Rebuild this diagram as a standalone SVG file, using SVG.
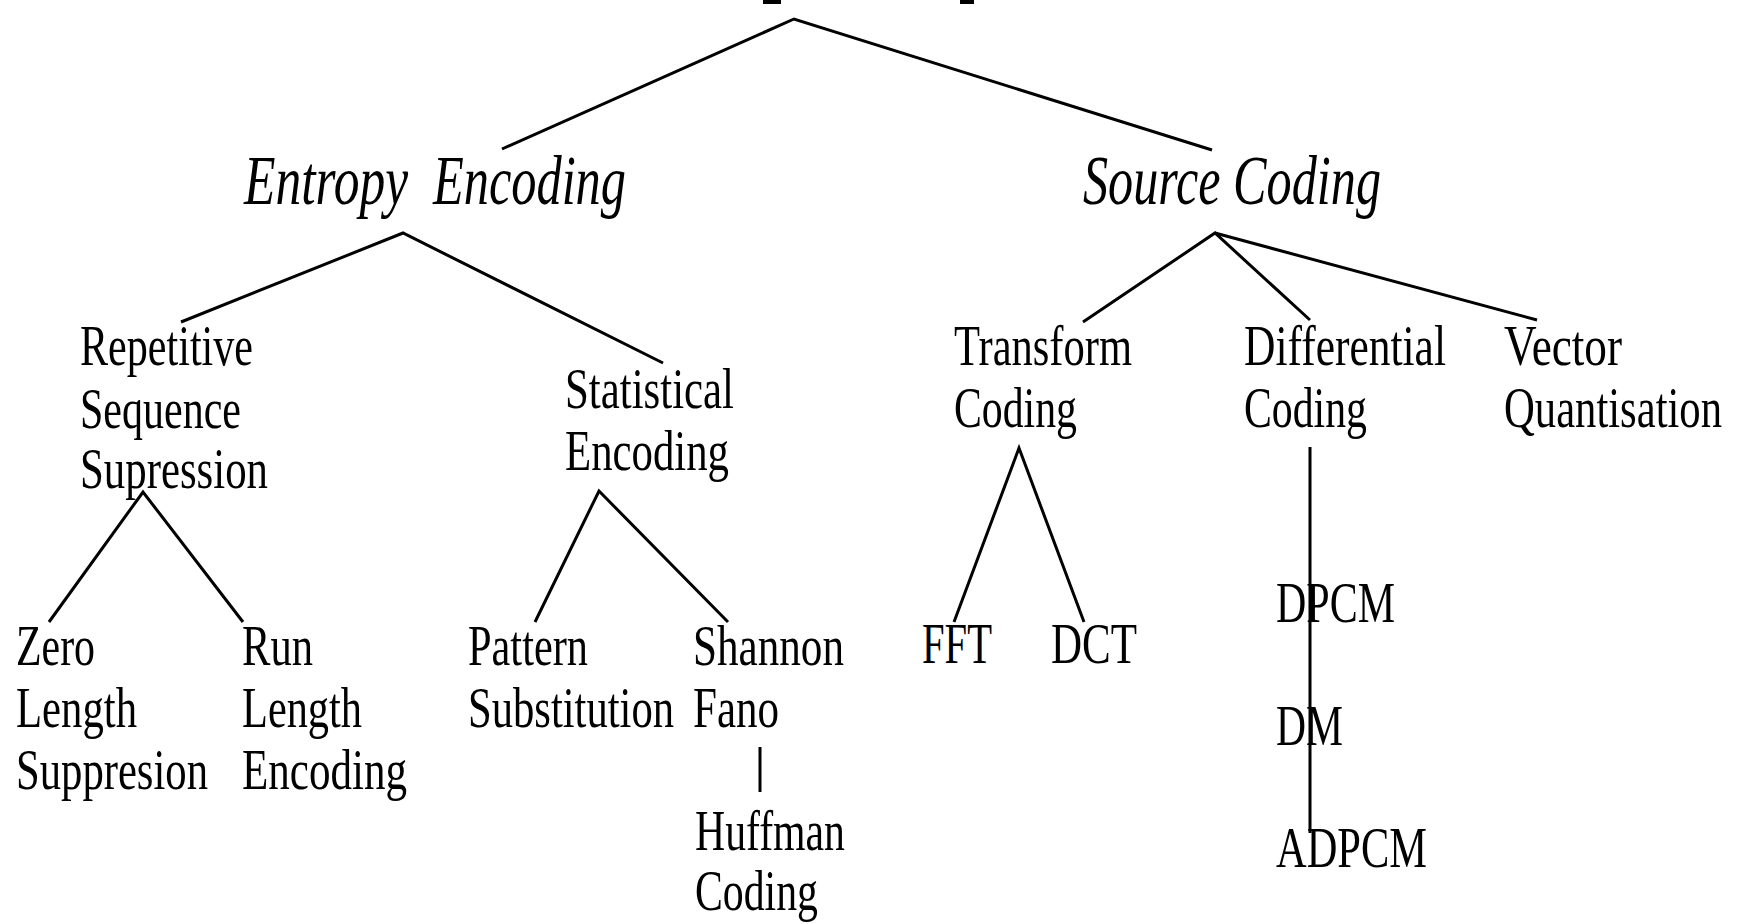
<svg xmlns="http://www.w3.org/2000/svg" width="1737" height="924" viewBox="0 0 1737 924">
  <style>
    .bg { fill: #ffffff; }
    .edge { stroke: #000000; stroke-width: 3; fill: none; stroke-linecap: butt; }
    .lbl { font-family: "Liberation Serif", "Times New Roman", serif; font-size: 41px; fill: #000000; }
    .head { font-family: "Liberation Serif", "Times New Roman", serif; font-size: 50px; font-style: italic; fill: #000000; }
    .frag { fill: #000000; }
  </style>
  <rect class="bg" x="0" y="0" width="1737" height="924"/>

  <!-- bottoms of the heading that sits above the visible area -->
  <g id="heading-fragments">
    <rect class="frag" x="763" y="0" width="18" height="4"/>
    <rect class="frag" x="960" y="0" width="14" height="4"/>
  </g>

  <g id="connectors">
    <!-- root split -->
    <polyline class="edge" points="502,149 794,19 1212,150"/>
    <!-- entropy encoding branches -->
    <polyline class="edge" points="181,322 403,233 663,363"/>
    <!-- source coding branches -->
    <polyline class="edge" points="1083,322 1215,233 1310,320"/>
    <line class="edge" x1="1215" y1="233" x2="1537" y2="320"/>
    <!-- repetitive sequence suppression branches -->
    <polyline class="edge" points="49,622 143,492 243,622"/>
    <!-- statistical encoding branches -->
    <polyline class="edge" points="535,622 599,491 728,622"/>
    <!-- transform coding branches -->
    <polyline class="edge" points="954,622 1019,448 1084,622"/>
    <!-- Shannon Fano to Huffman -->
    <line class="edge" x1="760" y1="747" x2="760" y2="792"/>
    <!-- differential coding chain -->
    <line class="edge" x1="1310" y1="447" x2="1310" y2="833"/>
  </g>

  <!-- labels use a tall, narrow letterform: each block is stretched vertically -->
  <g id="entropy-encoding">
    <text class="head" transform="translate(244,204) scale(1,1.39)"><tspan x="0" y="0" textLength="164" lengthAdjust="spacingAndGlyphs">Entropy</tspan><tspan x="189" y="0" textLength="193" lengthAdjust="spacingAndGlyphs">Encoding</tspan></text>
  </g>
  <g id="source-coding">
    <text class="head" transform="translate(1083,204) scale(1,1.39)" x="0" y="0" textLength="298" lengthAdjust="spacingAndGlyphs">Source Coding</text>
  </g>

  <g id="repetitive-sequence-supression">
    <text class="lbl" transform="translate(80,365) scale(1,1.37)"><tspan x="0" y="0" textLength="173" lengthAdjust="spacingAndGlyphs">Repetitive</tspan><tspan x="0" y="46" textLength="161" lengthAdjust="spacingAndGlyphs">Sequence</tspan><tspan x="0" y="89.8" textLength="188" lengthAdjust="spacingAndGlyphs">Supression</tspan></text>
  </g>
  <g id="statistical-encoding">
    <text class="lbl" transform="translate(565,408) scale(1,1.37)"><tspan x="0" y="0" textLength="169" lengthAdjust="spacingAndGlyphs">Statistical</tspan><tspan x="0" y="45.3" textLength="164" lengthAdjust="spacingAndGlyphs">Encoding</tspan></text>
  </g>
  <g id="transform-coding">
    <text class="lbl" transform="translate(954,365) scale(1,1.37)"><tspan x="0" y="0" textLength="178" lengthAdjust="spacingAndGlyphs">Transform</tspan><tspan x="0" y="45.3" textLength="123" lengthAdjust="spacingAndGlyphs">Coding</tspan></text>
  </g>
  <g id="differential-coding">
    <text class="lbl" transform="translate(1244,365) scale(1,1.37)"><tspan x="0" y="0" textLength="202" lengthAdjust="spacingAndGlyphs">Differential</tspan><tspan x="0" y="45.3" textLength="123" lengthAdjust="spacingAndGlyphs">Coding</tspan></text>
  </g>
  <g id="vector-quantisation">
    <text class="lbl" transform="translate(1504,365) scale(1,1.37)"><tspan x="0" y="0" textLength="118" lengthAdjust="spacingAndGlyphs">Vector</tspan><tspan x="0" y="45.3" textLength="218" lengthAdjust="spacingAndGlyphs">Quantisation</tspan></text>
  </g>

  <g id="zero-length-suppresion">
    <text class="lbl" transform="translate(16,665) scale(1,1.37)"><tspan x="0" y="0" textLength="79" lengthAdjust="spacingAndGlyphs">Zero</tspan><tspan x="0" y="45.3" textLength="121" lengthAdjust="spacingAndGlyphs">Length</tspan><tspan x="0" y="90.5" textLength="192" lengthAdjust="spacingAndGlyphs">Suppresion</tspan></text>
  </g>
  <g id="run-length-encoding">
    <text class="lbl" transform="translate(242,665) scale(1,1.37)"><tspan x="0" y="0" textLength="71" lengthAdjust="spacingAndGlyphs">Run</tspan><tspan x="0" y="45.3" textLength="120" lengthAdjust="spacingAndGlyphs">Length</tspan><tspan x="0" y="90.5" textLength="165" lengthAdjust="spacingAndGlyphs">Encoding</tspan></text>
  </g>
  <g id="pattern-substitution">
    <text class="lbl" transform="translate(468,665) scale(1,1.37)"><tspan x="0" y="0" textLength="120" lengthAdjust="spacingAndGlyphs">Pattern</tspan><tspan x="0" y="45.3" textLength="206" lengthAdjust="spacingAndGlyphs">Substitution</tspan></text>
  </g>
  <g id="shannon-fano">
    <text class="lbl" transform="translate(693,665) scale(1,1.37)"><tspan x="0" y="0" textLength="151" lengthAdjust="spacingAndGlyphs">Shannon</tspan><tspan x="0" y="45.3" textLength="86" lengthAdjust="spacingAndGlyphs">Fano</tspan></text>
  </g>
  <g id="huffman-coding">
    <text class="lbl" transform="translate(695,850) scale(1,1.37)"><tspan x="0" y="0" textLength="150" lengthAdjust="spacingAndGlyphs">Huffman</tspan><tspan x="0" y="43.8" textLength="123" lengthAdjust="spacingAndGlyphs">Coding</tspan></text>
  </g>
  <g id="fft">
    <text class="lbl" transform="translate(922,663) scale(1,1.37)" x="0" y="0" textLength="70" lengthAdjust="spacingAndGlyphs">FFT</text>
  </g>
  <g id="dct">
    <text class="lbl" transform="translate(1051,663) scale(1,1.37)" x="0" y="0" textLength="86" lengthAdjust="spacingAndGlyphs">DCT</text>
  </g>
  <g id="dpcm">
    <text class="lbl" transform="translate(1276,622) scale(1,1.37)" x="0" y="0" textLength="119" lengthAdjust="spacingAndGlyphs">DPCM</text>
  </g>
  <g id="dm">
    <text class="lbl" transform="translate(1276,745) scale(1,1.37)" x="0" y="0" textLength="67" lengthAdjust="spacingAndGlyphs">DM</text>
  </g>
  <g id="adpcm">
    <text class="lbl" transform="translate(1276,867) scale(1,1.37)" x="0" y="0" textLength="151" lengthAdjust="spacingAndGlyphs">ADPCM</text>
  </g>
</svg>
